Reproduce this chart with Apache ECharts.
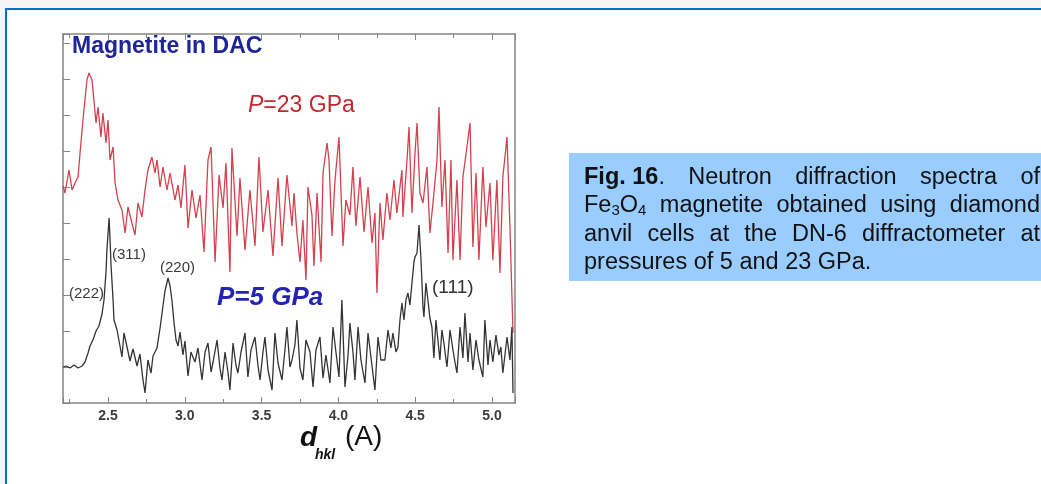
<!DOCTYPE html>
<html>
<head>
<meta charset="utf-8">
<script src="https://cdn.jsdelivr.net/npm/echarts@6/dist/echarts.min.js"></script>
<style>
  html, body { margin: 0; padding: 0; background: #ffffff; }
  #chart { width: 1041px; height: 484px; }
</style>
</head>
<body>
<div id="chart"></div>
<script>
// Neutron diffraction spectra of magnetite in a diamond anvil cell.
// Each point: [d-spacing (Å), intensity (arb. units, stacked offset)]
const spectrum23GPa = [
  [2.207,217],[2.220,210],[2.246,233],[2.266,213],[2.285,220],[2.305,226],[2.318,250],[2.337,283],
  [2.363,323],[2.376,330],[2.396,323],[2.402,313],[2.422,280],[2.435,296],[2.454,266],[2.467,290],
  [2.487,260],[2.500,283],[2.513,243],[2.533,256],[2.546,220],[2.565,203],[2.591,193],[2.611,170],
  [2.630,196],[2.656,180],[2.676,168],[2.695,200],[2.721,186],[2.741,213],[2.760,233],[2.786,246],
  [2.806,230],[2.819,243],[2.839,216],[2.858,236],[2.884,213],[2.904,230],[2.936,203],[2.956,218],
  [2.975,195],[3.001,238],[3.021,175],[3.047,213],[3.073,185],[3.099,208],[3.125,151],[3.151,243],
  [3.171,256],[3.197,141],[3.223,228],[3.249,195],[3.268,240],[3.294,131],[3.307,255],[3.340,167],
  [3.359,225],[3.392,153],[3.424,213],[3.457,157],[3.483,246],[3.509,171],[3.542,213],[3.574,147],
  [3.607,225],[3.633,157],[3.665,228],[3.698,177],[3.711,210],[3.730,170],[3.750,141],[3.769,183],
  [3.789,123],[3.802,216],[3.828,188],[3.841,137],[3.861,210],[3.887,141],[3.900,230],[3.926,260],
  [3.939,243],[3.958,167],[3.978,223],[4.004,266],[4.030,157],[4.049,203],[4.075,188],[4.095,236],
  [4.114,177],[4.141,226],[4.167,171],[4.193,216],[4.219,160],[4.238,190],[4.251,110],[4.271,200],
  [4.290,163],[4.316,210],[4.336,183],[4.362,223],[4.381,190],[4.414,233],[4.420,186],[4.447,243],
  [4.460,276],[4.479,190],[4.499,250],[4.512,280],[4.531,210],[4.551,200],[4.577,236],[4.596,170],
  [4.616,200],[4.642,243],[4.655,296],[4.674,196],[4.694,243],[4.714,150],[4.733,243],[4.746,143],
  [4.772,223],[4.792,143],[4.811,226],[4.837,256],[4.857,280],[4.876,156],[4.896,230],[4.915,143],
  [4.941,236],[4.961,176],[4.987,220],[5.006,143],[5.032,223],[5.052,130],[5.071,226],[5.098,266],
  [5.117,176],[5.137,70]
];

const spectrum5GPa = [
  [2.207,36],[2.227,37],[2.253,35],[2.279,38],[2.305,35],[2.331,37],[2.350,41],[2.370,50],
  [2.383,57],[2.402,63],[2.422,72],[2.441,77],[2.461,89],[2.474,103],[2.487,131],[2.493,153],
  [2.507,185],[2.513,165],[2.520,137],[2.533,103],[2.539,83],[2.559,73],[2.578,57],[2.591,46],
  [2.604,70],[2.624,56],[2.643,42],[2.663,54],[2.689,37],[2.708,49],[2.728,23],[2.741,10],
  [2.760,43],[2.780,30],[2.793,47],[2.819,55],[2.839,75],[2.858,97],[2.871,112],[2.891,125],
  [2.904,117],[2.917,102],[2.930,80],[2.943,63],[2.956,57],[2.969,71],[2.988,48],[3.001,62],
  [3.021,27],[3.040,51],[3.066,41],[3.086,55],[3.112,23],[3.132,51],[3.151,60],[3.171,31],
  [3.184,41],[3.210,63],[3.229,35],[3.242,23],[3.262,51],[3.281,31],[3.294,13],[3.314,60],
  [3.333,38],[3.346,30],[3.366,51],[3.392,70],[3.411,26],[3.431,53],[3.457,66],[3.477,37],
  [3.490,23],[3.509,51],[3.522,66],[3.542,33],[3.568,13],[3.587,70],[3.607,40],[3.633,23],
  [3.652,53],[3.665,76],[3.685,36],[3.698,43],[3.717,58],[3.730,83],[3.750,35],[3.769,23],
  [3.789,63],[3.815,51],[3.835,16],[3.854,53],[3.880,66],[3.900,25],[3.919,48],[3.945,20],
  [3.965,76],[3.984,51],[4.004,26],[4.023,103],[4.043,16],[4.063,48],[4.075,80],[4.095,51],
  [4.108,23],[4.128,76],[4.147,43],[4.173,20],[4.193,70],[4.212,46],[4.238,13],[4.258,66],
  [4.277,43],[4.303,43],[4.323,73],[4.342,55],[4.355,70],[4.375,51],[4.388,56],[4.401,83],
  [4.414,100],[4.427,83],[4.440,103],[4.453,110],[4.466,98],[4.479,120],[4.492,141],[4.499,146],
  [4.512,150],[4.525,178],[4.538,143],[4.551,96],[4.557,86],[4.570,120],[4.583,103],[4.596,85],
  [4.609,76],[4.622,45],[4.635,83],[4.648,63],[4.661,43],[4.674,73],[4.687,60],[4.707,36],
  [4.727,73],[4.746,53],[4.759,41],[4.772,30],[4.792,76],[4.811,45],[4.824,90],[4.844,41],
  [4.857,70],[4.876,33],[4.896,63],[4.915,43],[4.941,26],[4.954,83],[4.974,38],[4.987,63],
  [5.006,41],[5.026,68],[5.045,48],[5.058,56],[5.071,30],[5.098,66],[5.117,43],[5.130,76],
  [5.137,10]
];

const dRange = [2.207, 5.15];
const intensityRange = [0, 369];
const intensityTickStep = 36;

const sampleTitle = 'Magnetite in DAC';
const pressureLabels = ['=23 GPa', '=5 GPa'];
const reflectionLabels = ['(222)', '(311)', '(220)', '(111)'];
const captionLines = [
  [['Fig. 16', 'b'], ['.']],
  'Neutron diffraction spectra of',
  'Fe₃O₄ magnetite obtained using diamond',
  'anvil cells at the DN-6 diffractometer at',
  'pressures of 5 and 23 GPa.'
];

const FONT = '"Liberation Sans", Arial, Helvetica, sans-serif';
const AXIS_GRAY = '#858585';

const chart = echarts.init(document.getElementById('chart'));

// ---- helpers -------------------------------------------------------------
const measureCtx = document.createElement('canvas').getContext('2d');
function textWidth(str, size, weight, style) {
  measureCtx.font = (style || 'normal') + ' ' + (weight || 'normal') + ' ' + size + 'px ' + FONT;
  return measureCtx.measureText(str).width;
}
function txt(x, y, str, size, opts) {
  opts = opts || {};
  return {
    type: 'text', x: x, y: y, silent: true, z: 10,
    style: {
      text: str, fill: opts.fill || '#111', fontSize: size,
      fontWeight: opts.weight || 'normal', fontStyle: opts.style || 'normal',
      fontFamily: FONT, align: 'left', verticalAlign: 'middle'
    }
  };
}

// ---- caption box with justified text --------------------------------------
const CAP = { left: 584, right: 1040, size: 23.5, subSize: 15, mids: [178, 206, 234.5, 262.5] };

// split a caption word into runs {t, bold, sub}
function runsOfWord(w) {
  const runs = [];
  for (const ch of w) {
    const subDigit = '₀₁₂₃₄₅₆₇₈₉'.indexOf(ch);
    if (subDigit >= 0) runs.push({ t: String(subDigit), sub: true });
    else if (runs.length && !runs[runs.length - 1].sub && !runs[runs.length - 1].bold) runs[runs.length - 1].t += ch;
    else runs.push({ t: ch });
  }
  return runs;
}
function runWidth(r) {
  return r.sub ? textWidth(r.t, CAP.subSize) : textWidth(r.t, CAP.size, r.bold ? 'bold' : 'normal');
}
const captionWords = [];
{
  const figRuns = captionLines[0].map(p => ({ t: p[0], bold: p[1] === 'b' }));
  const first = [figRuns].concat(captionLines[1].split(' ').map(runsOfWord));
  captionWords.push(first);
  for (let i = 2; i < captionLines.length; i++) captionWords.push(captionLines[i].split(' ').map(runsOfWord));
}
const captionGraphics = [{
  type: 'rect', z: 1, silent: true,
  shape: { x: 569, y: 153, width: 472, height: 128 },
  style: { fill: '#99ccff' }
}];
captionWords.forEach((words, li) => {
  const widths = words.map(w => w.reduce((s, r) => s + runWidth(r), 0));
  const total = widths.reduce((a, b) => a + b, 0);
  const justified = li < captionWords.length - 1;
  const gap = justified ? (CAP.right - CAP.left - total) / (words.length - 1) : textWidth(' ', CAP.size);
  let x = CAP.left;
  words.forEach((w, wi) => {
    let rx = x;
    w.forEach(r => {
      if (r.sub) captionGraphics.push(txt(rx, CAP.mids[li] + 5, r.t, CAP.subSize, { fill: '#111' }));
      else captionGraphics.push(txt(rx, CAP.mids[li], r.t, CAP.size, { fill: '#111', weight: r.bold ? 'bold' : 'normal' }));
      rx += runWidth(r);
    });
    x += widths[wi] + gap;
  });
});

// ---- page frame -----------------------------------------------------------
const frameGraphics = [
  { type: 'rect', silent: true, z: 0, shape: { x: 0, y: 0, width: 1041, height: 8 }, style: { fill: '#f5f5f5' } },
  { type: 'rect', silent: true, z: 0, shape: { x: 0, y: 0, width: 5, height: 484 }, style: { fill: '#f5f5f5' } },
  { type: 'rect', silent: true, z: 0, shape: { x: 5, y: 8, width: 1036, height: 2 }, style: { fill: '#0b6fc1' } },
  { type: 'rect', silent: true, z: 0, shape: { x: 5, y: 8, width: 2, height: 476 }, style: { fill: '#0b6fc1' } }
];

// ---- in-plot annotations --------------------------------------------------
const annotationGraphics = [
  txt(72, 47, sampleTitle, 23, { fill: '#1e2596', weight: 'bold' }),
  txt(248, 106, 'P', 23, { fill: '#c7262f', style: 'italic' }),
  txt(248 + textWidth('P', 23, 'normal', 'italic'), 106, pressureLabels[0], 23, { fill: '#c7262f' }),
  txt(217, 298, 'P' + pressureLabels[1], 26, { fill: '#2424b4', weight: 'bold', style: 'italic' }),
  txt(69, 294, reflectionLabels[0], 15, { fill: '#3a3a3a' }),
  txt(112, 255, reflectionLabels[1], 15, { fill: '#3a3a3a' }),
  txt(160, 268, reflectionLabels[2], 15, { fill: '#3a3a3a' }),
  txt(432, 288, reflectionLabels[3], 19, { fill: '#333' }),
  // axis title: d_hkl (A)
  txt(300, 438, 'd', 28, { fill: '#111', weight: 'bold', style: 'italic' }),
  txt(315, 455, 'hkl', 14, { fill: '#111', weight: 'bold', style: 'italic' }),
  txt(345, 437, '(A)', 28, { fill: '#111' })
];

// ---- axes -----------------------------------------------------------------
function dAxis(position, showLabels) {
  return {
    type: 'value', position: position, min: dRange[0], max: dRange[1], splitNumber: 5,
    splitLine: { show: false },
    axisLine: { show: true, onZero: false, lineStyle: { color: AXIS_GRAY, width: 1.5 } },
    axisTick: { show: true, inside: true, length: 6, lineStyle: { color: AXIS_GRAY, width: 1 } },
    minorTick: { show: true, splitNumber: 2, length: 4, lineStyle: { color: AXIS_GRAY, width: 1 } },
    axisLabel: {
      show: showLabels, showMinLabel: false, showMaxLabel: false, margin: 6,
      formatter: v => v.toFixed(1),
      fontSize: 14, fontWeight: 'bold', color: '#3c3c3c', fontFamily: FONT
    }
  };
}
function intensityAxis(position, showTicks) {
  return {
    type: 'value', position: position, min: intensityRange[0], max: intensityRange[1],
    interval: intensityTickStep,
    splitLine: { show: false },
    axisLine: { show: true, onZero: false, lineStyle: { color: AXIS_GRAY, width: 1.5 } },
    axisTick: { show: showTicks, inside: true, length: 7, lineStyle: { color: AXIS_GRAY, width: 1 } },
    axisLabel: { show: false }
  };
}

chart.setOption({
  animation: false,
  backgroundColor: '#ffffff',
  grid: { left: 63, top: 34, right: 526, bottom: 81, containLabel: false },
  xAxis: [dAxis('bottom', true), dAxis('top', false)],
  yAxis: [intensityAxis('left', true), intensityAxis('right', false)],
  series: [
    {
      name: 'P=23 GPa', type: 'line', xAxisIndex: 0, yAxisIndex: 0,
      data: spectrum23GPa, showSymbol: false, symbol: 'none', clip: true,
      lineStyle: { color: '#d4404e', width: 1.3 }
    },
    {
      name: 'P=5 GPa', type: 'line', xAxisIndex: 0, yAxisIndex: 0,
      data: spectrum5GPa, showSymbol: false, symbol: 'none', clip: true,
      lineStyle: { color: '#333333', width: 1.3 }
    }
  ],
  graphic: frameGraphics.concat(captionGraphics, annotationGraphics)
});
</script>
</body>
</html>
